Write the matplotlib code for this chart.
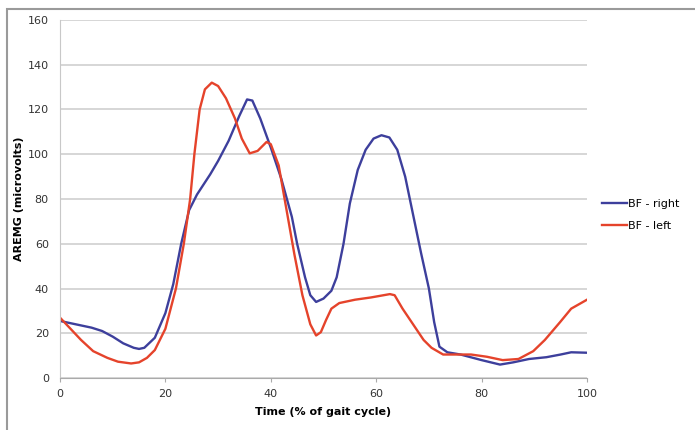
import matplotlib.pyplot as plt
from matplotlib.patches import Rectangle

# BF - right (blue)
right_x = [0, 3, 6, 8, 10, 12, 14, 15, 16, 18, 20, 21.5, 23, 24.5, 26, 28.5, 30, 32, 34,
           35.5, 36.5, 38, 40, 42, 44, 45, 46.5, 47.5, 48.6, 50, 51.5, 52.5, 53.8, 55, 56.5,
           58, 59.5, 61, 62.5, 64, 65.5, 67, 68.5, 70, 71, 72, 73.5, 76, 80, 83.5, 86, 89,
           92.3, 95, 97, 100]
right_y = [25.5, 24, 22.5, 21, 18.5, 15.5, 13.5, 13, 13.5, 18, 29, 42, 60, 75, 82, 91, 97, 106, 117,
           124.5, 124, 116, 103, 89, 72, 60, 45, 37, 34, 35.5, 39, 45, 60, 78, 93,
           102, 107, 108.5, 107.5, 102, 90, 73, 56, 40, 25, 14, 11.5, 10.5, 8, 6, 7, 8.5,
           9.3, 10.5, 11.5, 11.3]

# BF - left (red)
left_x = [0, 2, 4, 6.3, 9, 11, 13.5, 15, 16.5, 18, 20, 22, 23.5, 24.7, 25.5, 26.5, 27.5, 28.8,
          30, 31.5, 33.2, 34.5, 36, 37.5, 39.2, 40, 41.5, 43, 44.5, 46, 47.5, 48.6, 49.5, 50.5,
          51.5, 53, 56, 59, 62.6, 63.5, 65, 67, 69, 70.5, 72.7, 75, 78, 81, 84, 87, 89.8, 92,
          94.9, 97, 100]
left_y = [27, 22, 17, 12, 9, 7.3, 6.5, 7, 9, 12.5, 22, 40, 60, 80, 100, 120, 129, 132,
          130.5, 125, 116, 107, 100.4, 101.5, 105.5, 104.5, 95, 75, 55, 37, 24, 19, 20.5, 26,
          31, 33.5, 35, 36, 37.5, 37, 31, 24, 17, 13.5, 10.5, 10.5, 10.5, 9.5, 8, 8.5, 12, 17,
          25, 31, 35]

fig = plt.figure(figsize=(6.95, 4.3), dpi=100)
ax = fig.add_axes([0.0863, 0.1209, 0.7583, 0.8326])

# outer chart border
fig.patches.append(Rectangle((7 / 695, -0.05), 1.1, (430 - 9) / 430 + 0.05,
                             transform=fig.transFigure, fill=False,
                             edgecolor='#9a9a9a', linewidth=1.5))

ax.plot(right_x, right_y, color='#3d3f9c', linewidth=1.7, label='BF - right')
ax.plot(left_x, left_y, color='#e5432b', linewidth=1.7, label='BF - left')

ax.set_xlim(0, 100)
ax.set_ylim(0, 160)
ax.set_xticks(range(0, 101, 20))
ax.set_yticks(range(0, 161, 20))
ax.tick_params(labelsize=8, colors='#333333', length=3, width=0.8)
ax.tick_params(axis='y', length=0, pad=8)
ax.tick_params(axis='x', color='#aaaaaa', pad=5)
ax.grid(axis='y', color='#d0d0d0', linewidth=1.2)
ax.set_axisbelow(True)

for s in ['top', 'right']:
    ax.spines[s].set_visible(False)
ax.spines['left'].set_color('#c8c8c8')
ax.spines['bottom'].set_color('#aaaaaa')

ax.set_xlabel('Time (% of gait cycle)', fontsize=8, fontweight='bold', labelpad=6)
ax.set_ylabel('AREMG (microvolts)', fontsize=8, fontweight='bold', labelpad=3)

ax.legend(loc='center left', bbox_to_anchor=(1.01, 0.455), frameon=False,
          fontsize=8, handlelength=2.2, handletextpad=0.1, labelspacing=1.1)

fig.savefig('out.png', dpi=100)
